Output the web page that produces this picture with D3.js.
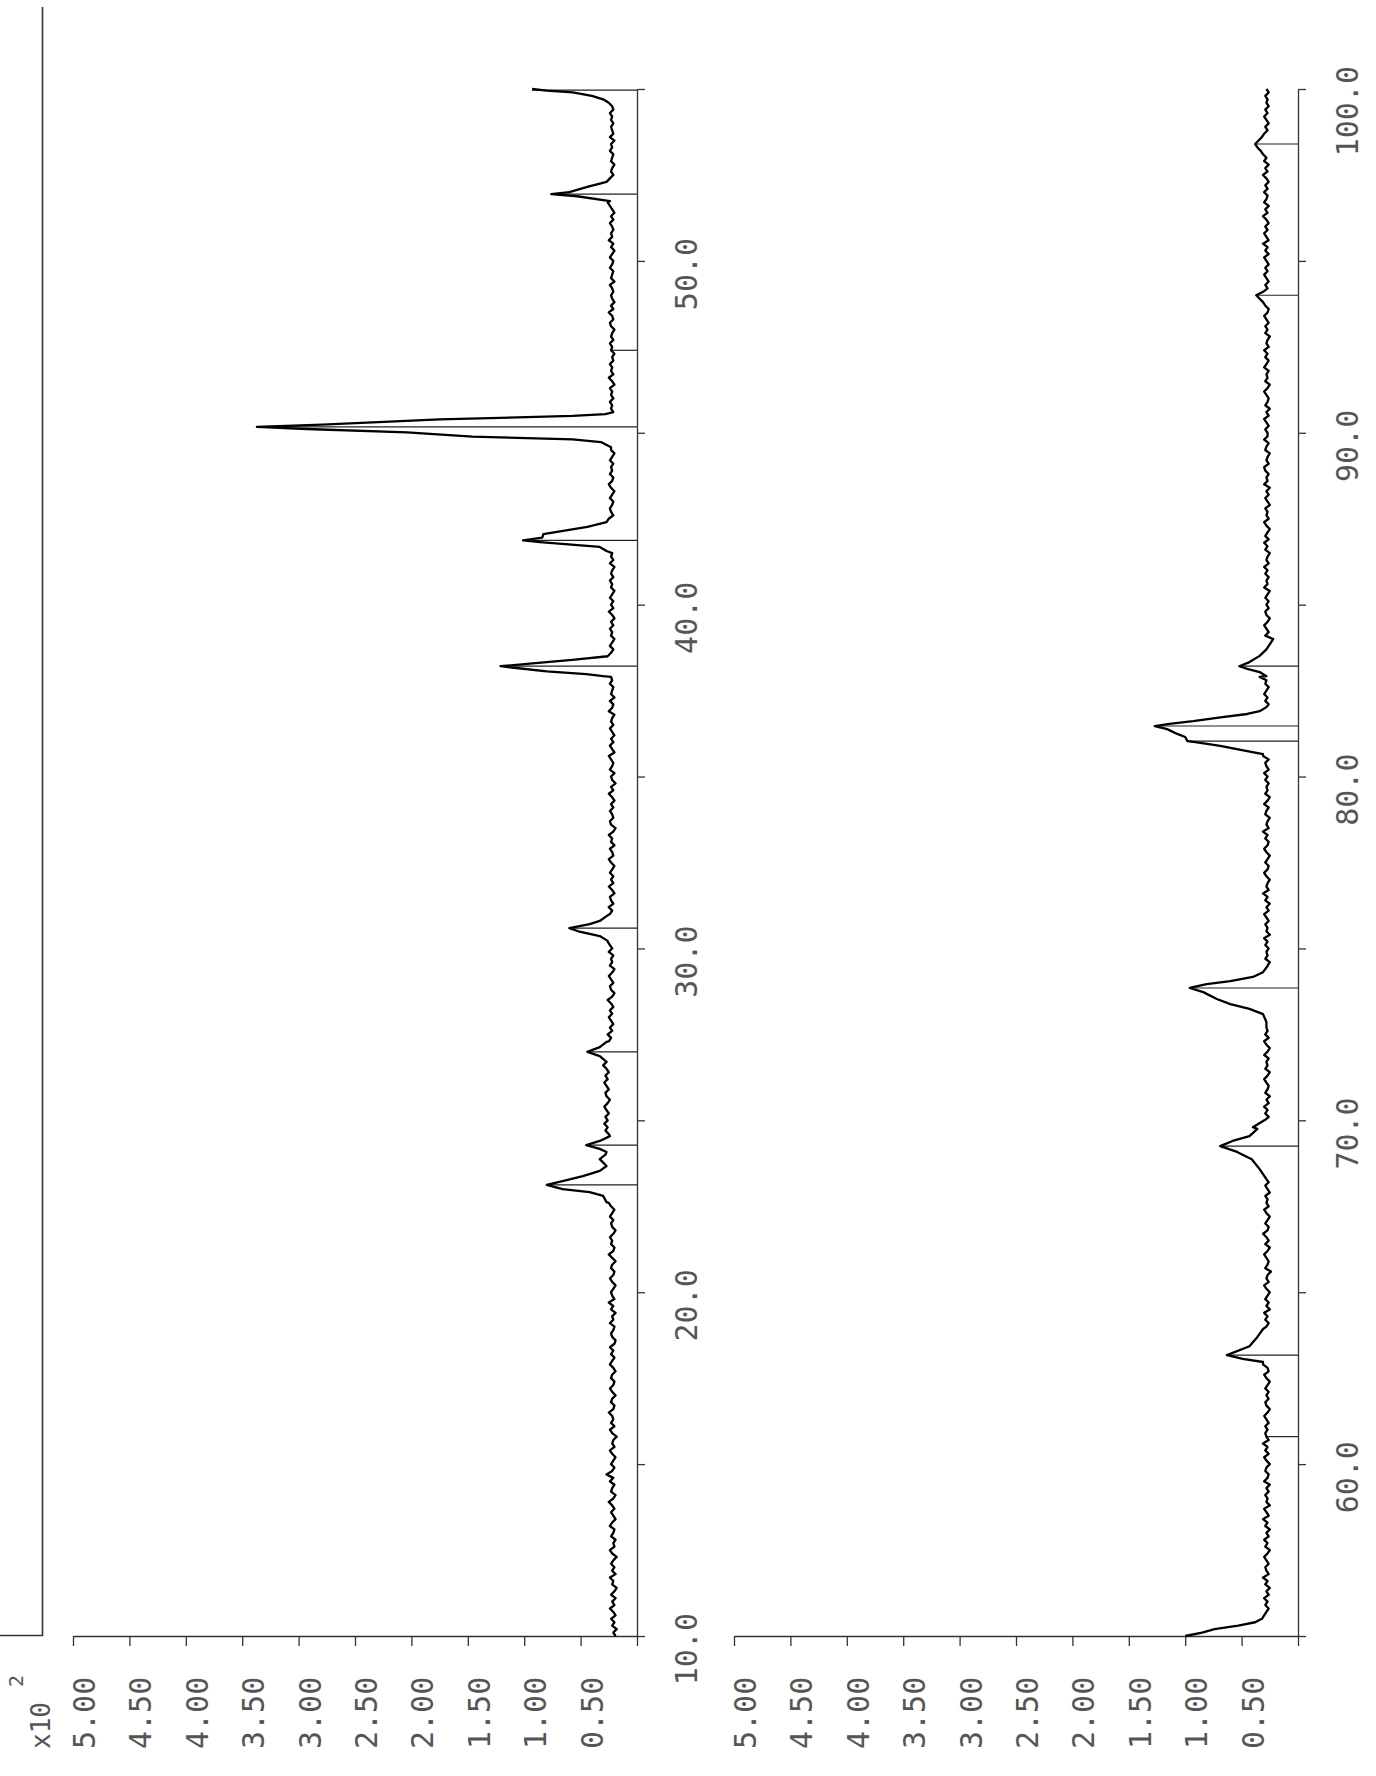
<!DOCTYPE html>
<html>
<head>
<meta charset="utf-8">
<script src="https://cdn.jsdelivr.net/npm/d3@7"></script>
<style>
  html, body { margin: 0; padding: 0; background: #fff; }
  svg { display: block; }
  .lbl { font-family: "DejaVu Sans Mono", monospace; fill: #555; }
</style>
</head>
<body>
<svg id="chart" width="1376" height="1776"></svg>
<script>
// Powder diffraction scan, 2-theta 10-100 deg, plotted in two strips (printed sideways).
// Counts sampled every 0.1 deg; peaks carry finer hand-read profiles.
const step = 0.1;

const topStart = 10.0;
const topCounts = [
  19,21,18,22,20,23,19,21,24,20,
  22,19,23,20,18,22,21,24,19,22,
  20,23,21,18,22,24,20,21,19,23,
  21,20,24,22,19,21,23,20,22,25,
  21,19,23,22,20,24,21,27,22,20,
  23,21,19,22,24,20,22,21,18,22,
  24,20,23,21,22,25,21,20,23,22,
  19,22,24,21,20,23,22,19,21,24,
  22,20,23,21,24,20,19,22,23,21,
  20,24,21,22,19,23,21,25,20,22,
  23,21,19,22,24,21,20,23,22,19,
  22,25,21,20,23,22,24,21,19,22,
  23,21,24,22,20,23,25,27,33,45,
  66,80,66,40,33,27,29,33,28,27,
  27,33,45,33,24,26,25,28,26,29,
  26,28,25,27,29,26,24,27,28,25,
  27,29,26,28,25,27,30,26,28,33,
  44,33,27,25,23,26,22,24,21,23,
  25,22,24,21,23,26,22,20,23,24,
  21,23,25,22,20,24,22,23,21,25,
  22,24,26,33,42,52,60,42,33,27,
  24,22,25,21,23,24,20,22,25,21,
  23,21,24,22,20,23,25,21,22,24,
  20,23,22,25,21,19,23,24,21,22,
  24,21,23,20,22,25,21,23,19,22,
  23,20,24,22,21,23,25,20,22,24,
  21,23,20,22,24,21,23,22,20,25,
  22,21,24,20,23,22,21,24,22,23,
  21,25,80,121,55,26,23,21,24,22,
  20,23,22,24,21,23,20,22,25,21,
  23,21,24,22,20,23,22,24,21,23,
  22,20,24,21,23,22,25,21,22,24,
  83,45,27,24,22,25,21,23,24,22,
  21,24,22,20,23,25,22,21,24,22,
  23,21,24,22,20,23,22,25,32,145,
  203,337,170,28,24,22,21,23,22,24,
  21,23,22,24,20,22,25,21,23,22,
  24,21,22,20,23,22,24,21,23,22,
  20,23,24,21,22,25,21,23,20,22,
  23,21,22,24,20,23,22,21,24,22,
  21,24,22,20,23,21,25,22,23,21,
  22,24,21,23,20,22,24,26,53,76,
  44,27,23,22,24,21,23,22,20,23,
  22,21,24,22,23,20,24,21,22,23,
  21,23,22,24,21,22,25,30,40,57,
  93
];

const bottomStart = 55.0;
const bottomCounts = [
  100,85,74,53,38,32,30,28,26,29,
  27,30,26,28,25,29,27,31,26,28,
  29,26,28,30,27,25,29,27,30,26,
  28,25,29,27,31,26,28,30,25,28,
  27,29,26,28,25,30,27,26,29,28,
  25,28,30,26,29,27,31,26,28,29,
  27,29,26,28,30,27,25,28,29,26,
  28,26,29,27,25,28,30,26,27,31,
  45,63,49,43,36,31,28,30,27,29,
  28,26,29,27,30,25,28,26,29,27,
  25,28,30,26,28,27,24,29,27,26,
  28,30,27,25,29,26,28,31,27,26,
  29,27,25,28,30,26,28,27,29,25,
  27,29,26,28,30,28,33,36,41,48,
  54,69,58,43,36,40,33,28,27,29,
  28,26,29,27,30,26,28,25,29,27,
  26,28,30,27,25,29,27,28,26,30,
  27,25,28,30,26,29,27,28,28,31,
  35,43,60,72,84,96,81,60,40,31,
  27,29,26,28,30,27,25,29,27,28,
  26,29,27,30,25,28,27,29,26,28,
  30,26,28,25,29,27,31,26,28,27,
  25,28,30,27,26,29,27,25,28,30,
  27,26,29,27,31,26,28,27,25,29,
  28,26,30,27,25,29,27,28,26,29,
  27,30,26,28,29,26,31,45,69,98,
  100,107,116,127,114,93,67,45,34,28,
  28,26,29,27,30,28,26,29,28,34,
  45,52,43,34,28,26,27,22,29,26,
  27,29,26,28,30,27,25,28,29,26,
  28,26,29,27,25,30,27,28,26,29,
  27,30,26,28,27,25,29,27,30,26,
  29,27,25,28,30,26,28,27,29,25,
  27,29,26,28,25,30,27,28,26,29,
  30,26,28,27,25,29,28,26,30,27,
  27,29,26,28,30,26,28,25,29,27,
  26,28,30,27,25,29,27,28,26,30,
  28,26,29,27,30,26,28,27,25,29,
  27,29,26,28,30,27,26,29,31,34,
  37,31,27,29,26,28,30,27,29,26,
  28,30,26,29,27,31,26,28,30,27,
  29,26,28,31,27,29,26,30,28,27,
  30,27,29,26,28,31,27,29,26,30,
  28,31,33,36,38,35,32,30,27,29,
  26,28,30,27,29,26,28,27,29,26,
  28
];

// Finer profiles across the reflections: [2theta, counts]
const peakProfiles = [
  [[22.62,27],[22.80,30],[22.91,42],[23.00,66],[23.12,80],[23.23,66],[23.38,48],[23.53,33],[23.67,27],[23.87,33],[24.00,28]],
  [[24.08,27],[24.17,33],[24.28,45],[24.40,33],[24.54,24]],
  [[26.70,27],[26.87,33],[26.99,44],[27.13,33],[27.28,27]],
  [[30.22,26],[30.36,33],[30.50,52],[30.59,60],[30.71,42],[30.80,33],[30.94,27]],
  [[37.92,30],[37.98,45],[38.06,80],[38.15,105],[38.21,121],[38.30,90],[38.40,55],[38.50,26]],
  [[41.56,27],[41.68,33],[41.82,86],[41.87,101],[41.95,84],[42.05,83],[42.26,44],[42.40,27]],
  [[44.58,23],[44.73,32],[44.81,57],[44.89,146],[45.01,204],[45.11,293],[45.17,337],[45.24,279],[45.39,175],[45.49,57],[45.54,28]],
  [[51.74,24],[51.88,53],[51.94,76],[52.00,60],[52.15,44],[52.30,27]],
  [[54.60,25],[54.70,30],[54.80,40],[54.90,57],[54.95,80],[55.00,93]],
  [[62.97,31],[63.06,49],[63.17,63],[63.43,43],[63.70,36],[63.93,31]],
  [[68.29,28],[68.58,34],[68.87,41],[69.08,54],[69.25,69],[69.40,58],[69.54,43],[69.75,36],[69.80,40],[70.04,28]],
  [[72.86,28],[73.09,31],[73.24,43],[73.38,60],[73.53,72],[73.73,84],[73.85,96],[73.96,81],[74.05,60],[74.17,40],[74.31,31],[74.49,27]],
  [[80.65,31],[80.74,45],[80.89,69],[81.00,91],[81.03,98],[81.15,100],[81.24,107],[81.38,116],[81.47,127],[81.53,114],[81.61,93],[81.73,67],[81.82,45],[81.90,34],[82.02,28]],
  [[82.92,28],[83.04,34],[83.13,45],[83.21,52],[83.33,43],[83.51,34],[83.70,28],[84.00,22]]
];

// Peak markers: [2theta, apex counts]
const peakMarks = [
  [23.12,80],[24.28,45],[26.99,44],[30.59,60],[38.21,121],[41.87,101],
  [45.17,337],[47.40,23],[51.94,76],[54.97,93],
  [60.80,28],[63.17,63],[69.25,69],[73.85,96],[81.03,98],[81.47,127],
  [83.21,52],[94.00,37],[98.40,38]
];

const intensityTicks = [0,50,100,150,200,250,300,350,400,450,500];
const strips = [
  { lo: 10, hi: 55, counts: topCounts, start: topStart, axisX: 637,
    thetaTicks: [10,15,20,25,30,35,40,45,50,55], thetaLabels: [10,20,30,40,50] },
  { lo: 55, hi: 100, counts: bottomCounts, start: bottomStart, axisX: 1298,
    thetaTicks: [55,60,65,70,75,80,85,90,95,100], thetaLabels: [60,70,80,90,100] }
];

const svg = d3.select("#chart");
svg.append("rect").attr("width", 1376).attr("height", 1776).attr("fill", "#fff");

// Page edge line at the far left
svg.append("path")
  .attr("d", "M0,1635.5 H42.5 V7")
  .attr("fill", "none").attr("stroke", "#333").attr("stroke-width", 1.6);

// Merge coarse samples with the finer peak profiles
function buildTrace(strip) {
  const coarse = strip.counts.map((c, i) => [+(strip.start + i * step).toFixed(2), c]);
  const profs = peakProfiles.filter(p => p[0][0] >= strip.lo && p[p.length - 1][0] <= strip.hi);
  const kept = coarse.filter(([t]) => !profs.some(p => t >= p[0][0] && t <= p[p.length - 1][0]));
  return kept.concat(...profs).sort((a, b) => a[0] - b[0]);
}

const fmtI = d3.format(".2f");
const fmtT = d3.format(".1f");

strips.forEach(strip => {
  const y = d3.scaleLinear().domain([strip.lo, strip.hi]).range([1636, 89]);
  const x = d3.scaleLinear().domain([0, 500]).range([strip.axisX, strip.axisX - 564]);
  const g = svg.append("g");

  // 2-theta axis (vertical), ticks pointing right
  const thetaAxis = d3.axisRight(y).tickValues(strip.thetaTicks).tickSize(8)
    .tickSizeOuter(0).tickFormat("");
  g.append("g").attr("transform", `translate(${strip.axisX},0)`).call(thetaAxis)
    .call(s => s.selectAll("path,line").attr("stroke", "#333").attr("stroke-width", 1.3));

  // Intensity axis (horizontal), ticks pointing down
  const intAxis = d3.axisBottom(x).tickValues(intensityTicks).tickSize(10)
    .tickSizeOuter(0).tickFormat("");
  g.append("g").attr("transform", `translate(0,1636)`).call(intAxis)
    .call(s => s.selectAll("path,line").attr("stroke", "#333").attr("stroke-width", 1.3));

  // Intensity tick labels, rotated
  g.selectAll("text.ilbl").data(intensityTicks.filter(v => v > 0)).join("text")
    .attr("class", "lbl ilbl")
    .attr("transform", v => `translate(${x(v) + 22},1749) rotate(-90)`)
    .attr("font-size", 30)
    .text(v => fmtI(v / 100));

  // 2-theta labels, rotated
  g.selectAll("text.tlbl").data(strip.thetaLabels).join("text")
    .attr("class", "lbl tlbl")
    .attr("transform", v => `translate(${strip.axisX + 60},${y(v) - 23}) rotate(-90)`)
    .attr("text-anchor", "end")
    .attr("font-size", 30)
    .text(v => fmtT(v));

  // Peak markers from apex to zero
  g.selectAll("line.mark").data(peakMarks.filter(m => m[0] >= strip.lo && m[0] <= strip.hi)).join("line")
    .attr("class", "mark")
    .attr("x1", m => x(m[1])).attr("x2", x(0))
    .attr("y1", m => y(m[0])).attr("y2", m => y(m[0]))
    .attr("stroke", "#222").attr("stroke-width", 1.2);

  // Diffraction trace
  const line = d3.line().x(d => x(d[1])).y(d => y(d[0]));
  g.append("path").datum(buildTrace(strip))
    .attr("d", line)
    .attr("fill", "none").attr("stroke", "#000")
    .attr("stroke-width", 2.3).attr("stroke-linejoin", "round");
});

// Scale factor note at the lower left
svg.append("text").attr("class", "lbl")
  .attr("transform", "translate(50,1749) rotate(-90)")
  .attr("font-size", 26).text("x10");
svg.append("text").attr("class", "lbl")
  .attr("transform", "translate(23,1687) rotate(-90)")
  .attr("font-size", 20).text("2");
</script>
</body>
</html>
